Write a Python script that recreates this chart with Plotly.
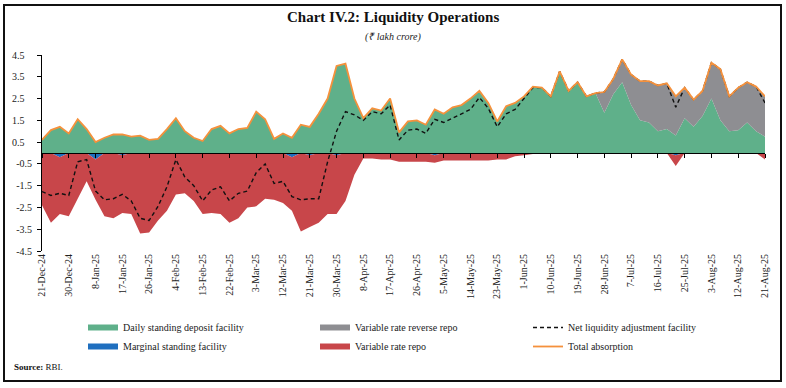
import pandas as pd
import plotly.graph_objects as go

# ---------------- data (₹ lakh crore), one reading every 3 days ----------------
dates = pd.date_range("2024-12-21", periods=82, freq="3D")

total_absorption = [0.60, 1.05, 1.20, 0.90, 1.55, 1.10, 0.50, 0.70, 0.85, 0.85,
                    0.75, 0.80, 0.60, 0.65, 1.10, 1.60, 1.00, 0.70, 0.55, 1.10,
                    1.25, 0.90, 1.10, 1.15, 1.90, 1.55, 0.65, 0.90, 0.70, 1.30,
                    1.20, 1.80, 2.50, 4.00, 4.10, 2.50, 1.60, 2.05, 1.95, 2.50,
                    0.95, 1.45, 1.50, 1.30, 2.00, 1.80, 2.10, 2.20, 2.50, 2.85,
                    2.30, 1.45, 2.15, 2.30, 2.60, 3.05, 3.00, 2.60, 3.75, 2.85,
                    3.25, 2.60, 2.75, 2.80, 3.40, 4.30, 3.60, 3.30, 3.30, 3.10,
                    3.20, 2.60, 3.00, 2.45, 2.85, 4.15, 3.85, 2.60, 3.00, 3.25,
                    3.05, 2.60]

sdf = [0.60, 1.05, 1.20, 0.90, 1.55, 1.10, 0.50, 0.70, 0.85, 0.85,
       0.75, 0.80, 0.60, 0.65, 1.10, 1.60, 1.00, 0.70, 0.55, 1.10,
       1.25, 0.90, 1.10, 1.15, 1.90, 1.55, 0.65, 0.90, 0.70, 1.30,
       1.20, 1.80, 2.50, 4.00, 4.10, 2.50, 1.60, 2.05, 1.95, 2.50,
       0.95, 1.45, 1.50, 1.30, 2.00, 1.80, 2.10, 2.20, 2.50, 2.85,
       2.30, 1.45, 2.15, 2.30, 2.60, 3.05, 3.00, 2.60, 3.75, 2.85,
       3.25, 2.60, 2.75, 1.85, 2.70, 3.25, 2.20, 1.50, 1.40, 1.00,
       1.10, 0.80, 1.60, 1.20, 1.70, 2.50, 1.50, 1.00, 1.05, 1.40,
       1.00, 0.75]

vrrr = [0, 0, 0, 0, 0, 0, 0, 0, 0, 0,
        0, 0, 0, 0, 0, 0, 0, 0, 0, 0,
        0, 0, 0, 0, 0, 0, 0, 0, 0, 0,
        0, 0, 0, 0, 0, 0, 0, 0, 0, 0,
        0, 0, 0, 0, 0, 0, 0, 0, 0, 0,
        0, 0, 0, 0, 0, 0, 0, 0, 0, 0,
        0, 0, 0, 0.95, 0.70, 1.05, 1.40, 1.80, 1.90, 2.10,
        2.10, 1.80, 1.40, 1.25, 1.15, 1.65, 2.35, 1.60, 1.95, 1.85,
        2.05, 1.85]

msf = [0, 0, -0.20, 0, 0, 0, -0.30, 0, 0, -0.10,
       0, 0, 0, 0, 0, 0, -0.05, 0, 0, 0,
       0, 0, 0, 0, 0, 0, 0, 0, -0.20, 0,
       -0.10, 0, 0, -0.10, 0, 0, 0, 0, 0, 0,
       0, 0, 0, 0, -0.10, 0, 0, 0, 0, 0,
       0, 0, 0, 0, 0, 0, 0, 0, 0, 0,
       0, 0, 0, 0, 0, 0, 0, 0, 0, 0,
       0, -0.10, 0, 0, 0, 0, 0, 0, 0, 0,
       0, 0]

vrr = [-2.40, -3.20, -2.60, -2.90, -2.10, -1.30, -1.85, -2.90, -3.00, -2.65,
       -2.80, -3.70, -3.65, -3.10, -2.65, -1.90, -1.80, -2.20, -2.80, -2.75,
       -2.80, -3.20, -3.00, -2.50, -2.45, -2.10, -2.15, -2.30, -2.45, -3.60,
       -3.30, -3.20, -2.80, -2.70, -2.20, -1.00, -0.25, -0.25, -0.30, -0.30,
       -0.40, -0.40, -0.40, -0.40, -0.35, -0.35, -0.35, -0.35, -0.35, -0.35,
       -0.35, -0.30, -0.30, -0.15, -0.10, -0.05, -0.03, 0, 0, 0,
       0, 0, 0, 0, 0, 0, 0, 0, 0, 0,
       0, -0.50, 0, 0, 0, 0, 0, 0, 0, 0,
       0, -0.30]

net_laf = [-1.77, -1.95, -1.85, -1.95, -0.40, -0.30, -1.75, -2.15, -2.10, -1.90,
           -2.20, -3.00, -3.10, -2.45, -1.55, -0.30, -1.10, -1.50, -2.20, -1.70,
           -1.55, -2.20, -1.85, -1.75, -0.90, -0.50, -1.40, -1.30, -2.00, -2.15,
           -2.10, -2.10, -0.40, 1.00, 1.90, 1.75, 1.50, 1.90, 1.80, 2.20,
           0.60, 1.05, 1.10, 0.90, 1.55, 1.40, 1.60, 1.80, 2.00, 2.55,
           2.05, 1.20, 1.80, 2.00, 2.50, 3.00, 3.00, 2.60, 3.75, 2.85,
           3.25, 2.60, 2.75, 2.80, 3.40, 4.30, 3.60, 3.30, 3.30, 3.10,
           3.20, 2.10, 3.00, 2.45, 2.85, 4.15, 3.85, 2.60, 3.00, 3.25,
           3.05, 2.30]

tick_dates = pd.date_range("2024-12-21", "2025-08-21", freq="9D")
tick_labels = [f"{d.day}-{d.strftime('%b-%y')}" for d in tick_dates]
y_ticks = [4.5, 3.5, 2.5, 1.5, 0.5, -0.5, -1.5, -2.5, -3.5, -4.5]
y_labels = ["4.5", "3.5", "2.5", "1.5", "0.5", "-0.5", "-1.5", "-2.5", "-3.5", "-4.5"]

# ---------------- styling ----------------
FONT = "Liberation Serif"
C_SDF = "#5fb08a"
C_VRRR = "#8e8e92"
C_MSF = "#1f6fbf"
C_VRR = "#c8464a"
C_TOT = "#f5913c"

W, H = 786, 388
L, R, T, B = 42, 21, 55, 137
PW, PH = W - L - R, H - T - B


def px(xp):
    return (xp - L) / PW


def py(yp):
    return (H - B - yp) / PH


# left-aligned look for the y tick labels (positive values padded)
y_text = [s if s.startswith("-") else s + "\u00a0\u00a0\u00a0" for s in y_labels]

fig = go.Figure()

fig.add_trace(go.Scatter(x=dates, y=sdf, name="Daily standing deposit facility",
                         stackgroup="pos", mode="none", fillcolor=C_SDF,
                         legend="legend", legendrank=1))
fig.add_trace(go.Scatter(x=dates, y=vrrr, name="Variable rate reverse repo",
                         stackgroup="pos", mode="none", fillcolor=C_VRRR,
                         legend="legend2", legendrank=1))
fig.add_trace(go.Scatter(x=dates, y=msf, name="Marginal standing facility",
                         stackgroup="neg", mode="none", fillcolor=C_MSF,
                         legend="legend", legendrank=2))
fig.add_trace(go.Scatter(x=dates, y=vrr, name="Variable rate repo",
                         stackgroup="neg", mode="none", fillcolor=C_VRR,
                         legend="legend2", legendrank=2))
fig.add_trace(go.Scatter(x=dates, y=net_laf, name="Net liquidity adjustment facility",
                         mode="lines", line=dict(color="#111111", width=1.4, dash="4px,3px"),
                         legend="legend3", legendrank=1))
fig.add_trace(go.Scatter(x=dates, y=total_absorption, name="Total absorption",
                         mode="lines", line=dict(color=C_TOT, width=1.8),
                         legend="legend3", legendrank=2))
# invisible carrier for the zero-line axis
fig.add_trace(go.Scatter(x=[dates[0]], y=[0], xaxis="x2", mode="markers",
                         marker=dict(opacity=0), showlegend=False, hoverinfo="skip"))

x_range = [tick_dates[0], tick_dates[-1]]
legend_common = dict(orientation="v", yanchor="top", y=py(313), xanchor="left",
                     traceorder="normal",
                     font=dict(family=FONT, size=10, color="#222"),
                     bgcolor="rgba(0,0,0,0)", tracegroupgap=0, itemwidth=30)

fig.update_layout(
    width=W, height=H,
    margin=dict(l=L, r=R, t=T, b=B),
    paper_bgcolor="white", plot_bgcolor="white",
    font=dict(family=FONT, size=10, color="#222"),
    xaxis=dict(type="date", range=x_range, tickvals=tick_dates, ticktext=tick_labels,
               tickangle=-90, showline=False, ticks="", showgrid=False, zeroline=False,
               tickfont=dict(family=FONT, size=10, color="#222")),
    xaxis2=dict(type="date", range=x_range, overlaying="x", anchor="free", position=0.5,
                tickvals=tick_dates, showticklabels=False, ticks="outside", ticklen=4,
                tickcolor="#000", showline=True, linecolor="#000", linewidth=1,
                showgrid=False, zeroline=False),
    yaxis=dict(range=[-4.5, 4.5], tickvals=y_ticks, ticktext=y_text, showline=True,
               linecolor="#000", linewidth=1, ticks="outside", ticklen=4, tickcolor="#000",
               ticklabelstandoff=3, showgrid=False, zeroline=False,
               tickfont=dict(family=FONT, size=10, color="#222")),
    legend=dict(x=px(83), **legend_common),
    legend2=dict(x=px(315), **legend_common),
    legend3=dict(x=px(528), **legend_common),
    showlegend=True,
)

fig.add_annotation(text="<b>Chart IV.2: Liquidity Operations</b>", xref="paper", yref="paper",
                   x=px(393), y=py(17), showarrow=False, xanchor="center", yanchor="middle",
                   font=dict(family=FONT, size=15, color="#111"))
fig.add_annotation(text="<i>(₹ lakh crore)</i>", xref="paper", yref="paper",
                   x=px(393), y=py(37), showarrow=False, xanchor="center", yanchor="middle",
                   font=dict(family=FONT, size=10, color="#222"))
fig.add_annotation(text="<b>Source:</b> RBI.", xref="paper", yref="paper",
                   x=px(12), y=py(367), showarrow=False, xanchor="left", yanchor="middle",
                   font=dict(family=FONT, size=9, color="#111"))

fig.add_shape(type="rect", xref="paper", yref="paper",
              x0=px(4), x1=px(781), y0=py(381), y1=py(5),
              line=dict(color="#111", width=2), fillcolor="rgba(0,0,0,0)", layer="above")

fig.write_html("out.html", config={"displayModeBar": False},
               post_script="document.body.style.margin='0px';document.body.style.overflow='hidden';")
